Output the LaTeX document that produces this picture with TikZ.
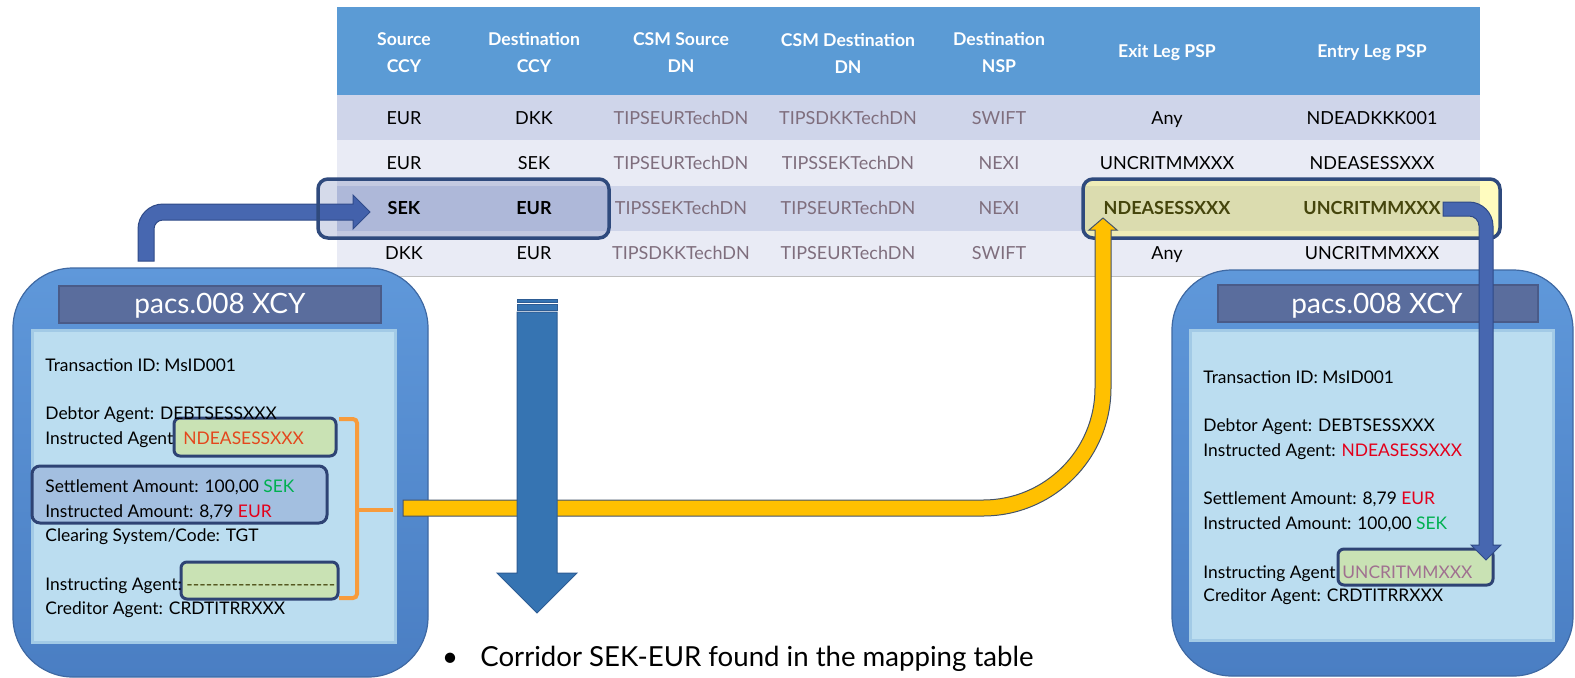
\documentclass[tikz,border=0pt]{standalone}
\usepackage{fontspec}
\setmainfont{Lato}
\definecolor{hdr}{HTML}{5B9BD5}
\definecolor{rowa}{HTML}{CFD5EA}
\definecolor{rowb}{HTML}{E9EBF5}
\definecolor{dnfg}{HTML}{7F6E7D}
\definecolor{navy}{HTML}{2F4A7D}
\definecolor{navyb}{HTML}{2E4374}
\definecolor{hlblue}{HTML}{374F9B}
\definecolor{olive}{HTML}{45450C}
\definecolor{gfill}{HTML}{C9E2B4}
\definecolor{sfill}{HTML}{A3BFE0}
\definecolor{boxtop}{HTML}{5F98DA}
\definecolor{boxbot}{HTML}{4A7EC3}
\definecolor{boxedge}{HTML}{3F69A3}
\definecolor{panel}{HTML}{BBDDF0}
\definecolor{paneledge}{HTML}{A2CAE6}
\definecolor{ttlbar}{HTML}{5A6D9D}
\definecolor{ttledge}{HTML}{4A5B88}
\definecolor{arrblue}{HTML}{4767B0}
\definecolor{arredge}{HTML}{2F4A87}
\definecolor{downblue}{HTML}{3674B2}
\definecolor{downedge}{HTML}{2D5C94}
\definecolor{yel}{HTML}{FFC000}
\definecolor{yeledge}{HTML}{44546A}
\definecolor{orng}{HTML}{F79B3C}
\definecolor{redA}{HTML}{E4471C}
\definecolor{redB}{HTML}{E3001B}
\definecolor{grn}{HTML}{00B050}
\definecolor{mauve}{HTML}{A07090}
\newcommand\hyp{\hbox{-}}
\newcommand\dashrow{\hyp\hyp\hyp\hyp\hyp\hyp\hyp\hyp\hyp\hyp\hyp\hyp\hyp\hyp\hyp\hyp\hyp\hyp\hyp\hyp\hyp\hyp\hyp}
\begin{document}
\begin{tikzpicture}[x=0.5pt,y=-0.5pt,
  tcell/.style={anchor=base, inner sep=0pt, font=\fontsize{9}{11}\selectfont, text=black},
  tgrey/.style={tcell, text=dnfg},
  tbold/.style={tcell, font=\fontsize{9}{11}\selectfont\bfseries},
  thead/.style={anchor=center, inner sep=0pt, align=center, text=white, font=\fontsize{8.8}{13.5}\selectfont\bfseries},
  mtxt/.style={anchor=base west, inner sep=0pt, font=\fontsize{8.7}{10}\selectfont, text=black},
  ttl/.style={anchor=base, inner sep=0pt, text=white, font=\fontsize{14}{16}\selectfont},
  hlborder/.style={draw=navy, line width=1.75pt, rounded corners=5pt},
  gbox/.style={fill=gfill, draw=navyb, line width=1.5pt, rounded corners=3pt},
  outerbox/.style={top color=boxtop, bottom color=boxbot, draw=boxedge, line width=0.6pt, rounded corners=30pt},
  panelbox/.style={fill=panel, draw=paneledge, line width=1.5pt},
  ttlbox/.style={fill=ttlbar, draw=ttledge, line width=1.2pt},
]
\useasboundingbox (0,0) rectangle (1575,677);

% ---------- table ----------
\fill[hdr] (337,7) rectangle (1480,95);
\fill[rowa] (337,95) rectangle (1480,140);
\fill[rowb] (337,140) rectangle (1480,186);
\fill[rowa] (337,186) rectangle (1480,231);
\fill[rowb] (337,231) rectangle (1480,276);
\draw[black!25, line width=0.5pt] (337,276) -- (1480,276);

\node[thead] (h1) at (404,53) {Source\\CCY};
\node[thead] (h2) at (534,53) {Destination\\CCY};
\node[thead] (h3) at (681,53) {CSM Source\\DN};
\node[thead] (h4) at (848,53) {CSM Destination\\DN};
\node[thead] (h5) at (999,53) {Destination\\NSP};
\node[thead] (h6) at (1167,53) {Exit Leg PSP};
\node[thead] (h7) at (1372,53) {Entry Leg PSP};

% left blue arrow (to SEK row)
\filldraw[fill=arrblue, draw=arredge, line width=0.5pt]
  (138,261) -- (138,229) .. controls (138,215.2) and (149.2,204) .. (163,204)
  -- (353,204) -- (353,195) -- (370,212) -- (353,229) -- (353,220)
  -- (163,220) .. controls (158,220) and (154,224) .. (154,229) -- (154,261) -- cycle;

% highlight overlays
\fill[hlblue, fill opacity=0.21, rounded corners=5pt] (318,179) rectangle (609,238);
\fill[yellow, fill opacity=0.25, rounded corners=5pt] (1083,179) rectangle (1500,238);

% rows
\node[tcell] (r1c1) at (404,124) {EUR};
\node[tcell] (r1c2) at (534,124) {DKK};
\node[tgrey] (r1c3) at (681,124) {TIPSEURTechDN};
\node[tgrey] (r1c4) at (848,124) {TIPSDKKTechDN};
\node[tgrey] (r1c5) at (999,124) {SWIFT};
\node[tcell] (r1c6) at (1167,124) {Any};
\node[tcell] (r1c7) at (1372,124) {NDEADKKK001};

\node[tcell] (r2c1) at (404,169) {EUR};
\node[tcell] (r2c2) at (534,169) {SEK};
\node[tgrey] (r2c3) at (681,169) {TIPSEURTechDN};
\node[tgrey] (r2c4) at (848,169) {TIPSSEKTechDN};
\node[tgrey] (r2c5) at (999,169) {NEXI};
\node[tcell] (r2c6) at (1167,169) {UNCRITMMXXX};
\node[tcell] (r2c7) at (1372,169) {NDEASESSXXX};

\node[tbold] (r3c1) at (404,214) {SEK};
\node[tbold] (r3c2) at (534,214) {EUR};
\node[tgrey] (r3c3) at (681,214) {TIPSSEKTechDN};
\node[tgrey] (r3c4) at (848,214) {TIPSEURTechDN};
\node[tgrey] (r3c5) at (999,214) {NEXI};
\node[tbold, text=olive] (r3c6) at (1167,214) {NDEASESSXXX};
\node[tbold, text=olive] (r3c7) at (1372,214) {UNCRITMMXXX};

\node[tcell] (r4c1) at (404,259) {DKK};
\node[tcell] (r4c2) at (534,259) {EUR};
\node[tgrey] (r4c3) at (681,259) {TIPSDKKTechDN};
\node[tgrey] (r4c4) at (848,259) {TIPSEURTechDN};
\node[tgrey] (r4c5) at (999,259) {SWIFT};
\node[tcell] (r4c6) at (1167,259) {Any};
\node[tcell] (r4c7) at (1372,259) {UNCRITMMXXX};

\draw[hlborder] (318,179) rectangle (609,238);
\draw[hlborder] (1083,179) rectangle (1500,238);

% ---------- left message box ----------
\path[outerbox] (13,268) rectangle (428,677);
\path[ttlbox] (59,286) rectangle (381,323);
\node[ttl] (ltitle) at (220,313) {pacs.008 XCY};
\path[panelbox] (32,330) rectangle (395,642);

\path[gbox] (174,418) rectangle (336,456);
\path[fill=sfill, draw=navyb, line width=1.5pt, rounded corners=4pt] (32,466) rectangle (327,523);
\path[gbox] (181,562) rectangle (338,599);

\node[mtxt] (l1) at (45,371) {Transaction ID: MsID001};
\node[mtxt] (l2) at (45,419) {Debtor Agent: DEBTSESSXXX};
\node[mtxt] (l3) at (45,444) {Instructed Agent};
\node[mtxt, text=redA] (l3v) at (183,444) {NDEASESSXXX};
\node[mtxt] (l4) at (45,492) {Settlement Amount: 100,00 \textcolor{grn}{SEK}};
\node[mtxt] (l5) at (45,517) {Instructed Amount: 8,79 \textcolor{redB}{EUR}};
\node[mtxt] (l6) at (45,541) {Clearing System/Code: TGT};
\node[mtxt] (l7) at (45,590) {Instructing Agent:};
\node[mtxt, text=olive] (l7v) at (186,590) {\dashrow};
\node[mtxt] (l8) at (45,614) {Creditor Agent: CRDTITRRXXX};

\draw[orng, line width=2pt, rounded corners=2pt] (339,419) -- (357,419) -- (357,598) -- (339,598);
\draw[orng, line width=2pt] (357,510) -- (393,510);

% ---------- right message box ----------
\path[outerbox] (1172,270) rectangle (1573,676);
\path[ttlbox] (1218,285) rectangle (1538,322);
\node[ttl] (rtitle) at (1377,313) {pacs.008 XCY};
\path[panelbox] (1190,330) rectangle (1553,640);

\path[gbox] (1338,549) rectangle (1493,585);

\node[mtxt] (m1) at (1203,383) {Transaction ID: MsID001};
\node[mtxt] (m2) at (1203,431) {Debtor Agent: DEBTSESSXXX};
\node[mtxt] (m3) at (1203,456) {Instructed Agent: \textcolor{redB}{NDEASESSXXX}};
\node[mtxt] (m4) at (1203,504) {Settlement Amount: 8,79 \textcolor{redB}{EUR}};
\node[mtxt] (m5) at (1203,529) {Instructed Amount: 100,00 \textcolor{grn}{SEK}};
\node[mtxt] (m6) at (1203,578) {Instructing Agent};
\node[mtxt, text=mauve] (m6v) at (1342,578) {UNCRITMMXXX};
\node[mtxt] (m7) at (1203,601) {Creditor Agent: CRDTITRRXXX};

% ---------- yellow arrow ----------
\filldraw[fill=yel, draw=yeledge, line width=0.5pt]
  (403,500) -- (983,500) .. controls (1044.8,500) and (1095,449.8) .. (1095,388)
  -- (1095,230) -- (1089,230) -- (1103,218) -- (1117,230) -- (1111,230)
  -- (1111,388) .. controls (1111,458.7) and (1053.7,516) .. (983,516)
  -- (403,516) -- cycle;

% ---------- down arrow ----------
\filldraw[fill=downblue, draw=downedge, line width=0.4pt] (517,299) rectangle (557,302.5);
\filldraw[fill=downblue, draw=downedge, line width=0.4pt] (517,304) rectangle (557,310);
\filldraw[fill=downblue, draw=downedge, line width=0.5pt]
  (517,312) -- (557,312) -- (557,573) -- (577,573) -- (537,613) -- (497,573) -- (517,573) -- cycle;

% ---------- right blue arrow ----------
\filldraw[fill=arrblue, draw=arredge, line width=0.5pt]
  (1443,202) -- (1469,202) .. controls (1482.2,202) and (1493,212.8) .. (1493,226)
  -- (1493,545) -- (1501,545) -- (1486,560) -- (1471,545) -- (1479,545)
  -- (1479,226) .. controls (1479,220.5) and (1474.5,216) .. (1469,216)
  -- (1443,216) -- cycle;

% ---------- caption ----------
\node[anchor=base, inner sep=0pt, font=\fontsize{13.8}{16}\selectfont] (bul) at (450,666) {\textbullet};
\node[anchor=base west, inner sep=0pt, font=\fontsize{13.8}{16}\selectfont] (cap) at (480,666) {Corridor SEK-EUR found in the mapping table};
\end{tikzpicture}
\end{document}
